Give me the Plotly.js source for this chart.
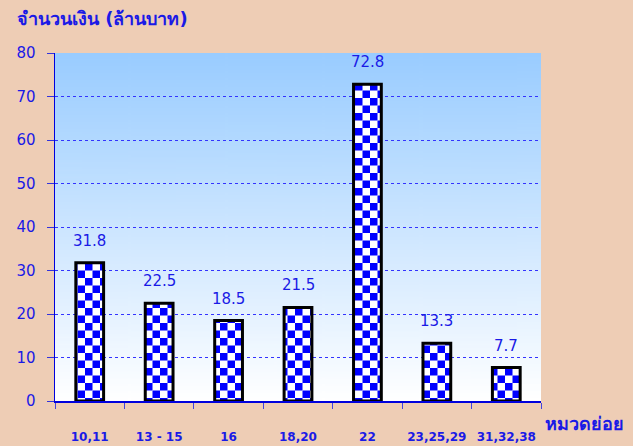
<!DOCTYPE html>
<html><head><meta charset="utf-8">
<script src="https://cdn.plot.ly/plotly-3.0.1.min.js"></script>
<style>html,body{margin:0;padding:0;background:#eecdb5;}#chart{width:633px;height:446px;}</style>
</head><body><div id="chart"></div>
<script>
const categories = ['10,11', '13 - 15', '16', '18,20', '22', '23,25,29', '31,32,38'];
const values = [31.8, 22.5, 18.5, 21.5, 72.8, 13.3, 7.7];
const yTitle = 'จำนวนเงิน (ล้านบาท)';
const xTitle = 'หมวดย่อย';

const BLUE = '#1a1ae6';
const FONT = 'Tahoma, Verdana, "DejaVu Sans", sans-serif';

const cv = document.createElement('canvas');
cv.width = 10; cv.height = 200;
const ctx = cv.getContext('2d');
const g = ctx.createLinearGradient(0, 0, 0, 200);
g.addColorStop(0, '#99ccff');
g.addColorStop(1, '#ffffff');
ctx.fillStyle = g; ctx.fillRect(0, 0, 10, 200);
const bgURL = cv.toDataURL('image/png');

const trace = {
  type: 'bar', x: categories, y: values,
  marker: {
    color: '#ffffff',
    line: {color: '#000000', width: 3},
    pattern: {shape: '.', fgcolor: '#0000ff', bgcolor: '#ffffff', size: 15, solidity: 0.5}
  },
  hoverinfo: 'none'
};

const annotations = categories.map((c, i) => ({
  x: i, y: values[i], xref: 'x', yref: 'y', text: values[i].toFixed(1),
  showarrow: false, yanchor: 'bottom', yshift: 11,
  font: {family: FONT, size: 15, color: BLUE}
}));
annotations.push({
  xref: 'paper', yref: 'paper', x: 0, y: 1, xanchor: 'left', yanchor: 'bottom',
  xshift: -40, yshift: 22, text: '<b>' + yTitle + '</b>', showarrow: false,
  font: {family: FONT, size: 18, color: BLUE}
});
annotations.push({
  xref: 'paper', yref: 'paper', x: 1, y: 0, xanchor: 'left', yanchor: 'middle',
  xshift: 2, yshift: -22, text: '<b>' + xTitle + '</b>', showarrow: false,
  font: {family: FONT, size: 18, color: BLUE}
});

const layout = {
  width: 633, height: 446,
  margin: {l: 55, r: 92, t: 53, b: 45},
  paper_bgcolor: '#eecdb5', plot_bgcolor: 'rgba(0,0,0,0)',
  showlegend: false, bargap: 0.6,
  font: {family: FONT, color: BLUE},
  images: [{source: bgURL, xref: 'paper', yref: 'paper', x: 0, y: 1, sizex: 1, sizey: 1,
            sizing: 'stretch', layer: 'below', xanchor: 'left', yanchor: 'top'}],
  xaxis: {
    type: 'category', range: [-0.5, categories.length - 0.5], autorange: false,
    showgrid: false, showline: true, linecolor: '#0000dd', linewidth: 1.5,
    ticks: 'outside', tickson: 'boundaries', ticklen: 6, tickcolor: '#4444dd', tickwidth: 1,
    ticklabelstandoff: 24, tickangle: 0,
    tickfont: {family: FONT, size: 12, color: BLUE, weight: 'bold'}, fixedrange: true
  },
  yaxis: {
    range: [0, 80], dtick: 10, showgrid: true, gridcolor: '#3333ff', griddash: 'dot', gridwidth: 1,
    showline: true, linecolor: '#0000dd', linewidth: 1.5, zeroline: false,
    ticks: 'outside', ticklen: 7, tickcolor: '#3333dd', ticklabelstandoff: 8,
    tickfont: {family: FONT, size: 15, color: BLUE}, fixedrange: true
  },
  annotations: annotations
};

Plotly.newPlot('chart', [trace], layout, {displayModeBar: false, staticPlot: true}).then(() => {
  const NS = 'http://www.w3.org/2000/svg';
  document.querySelectorAll('#chart pattern').forEach(p => {
    const s = 15, h = s / 2;
    p.setAttribute('width', s); p.setAttribute('height', s);
    p.setAttribute('patternUnits', 'userSpaceOnUse');
    while (p.firstChild) p.removeChild(p.firstChild);
    const mk = (x, y, w, hh, fill) => {
      const r = document.createElementNS(NS, 'rect');
      r.setAttribute('x', x); r.setAttribute('y', y);
      r.setAttribute('width', w); r.setAttribute('height', hh);
      r.setAttribute('fill', fill); p.appendChild(r);
    };
    mk(0, 0, s, s, '#ffffff');
    mk(0, 0, h, h, '#0000ff');
    mk(h, h, h, h, '#0000ff');
  });
});
</script></body></html>
